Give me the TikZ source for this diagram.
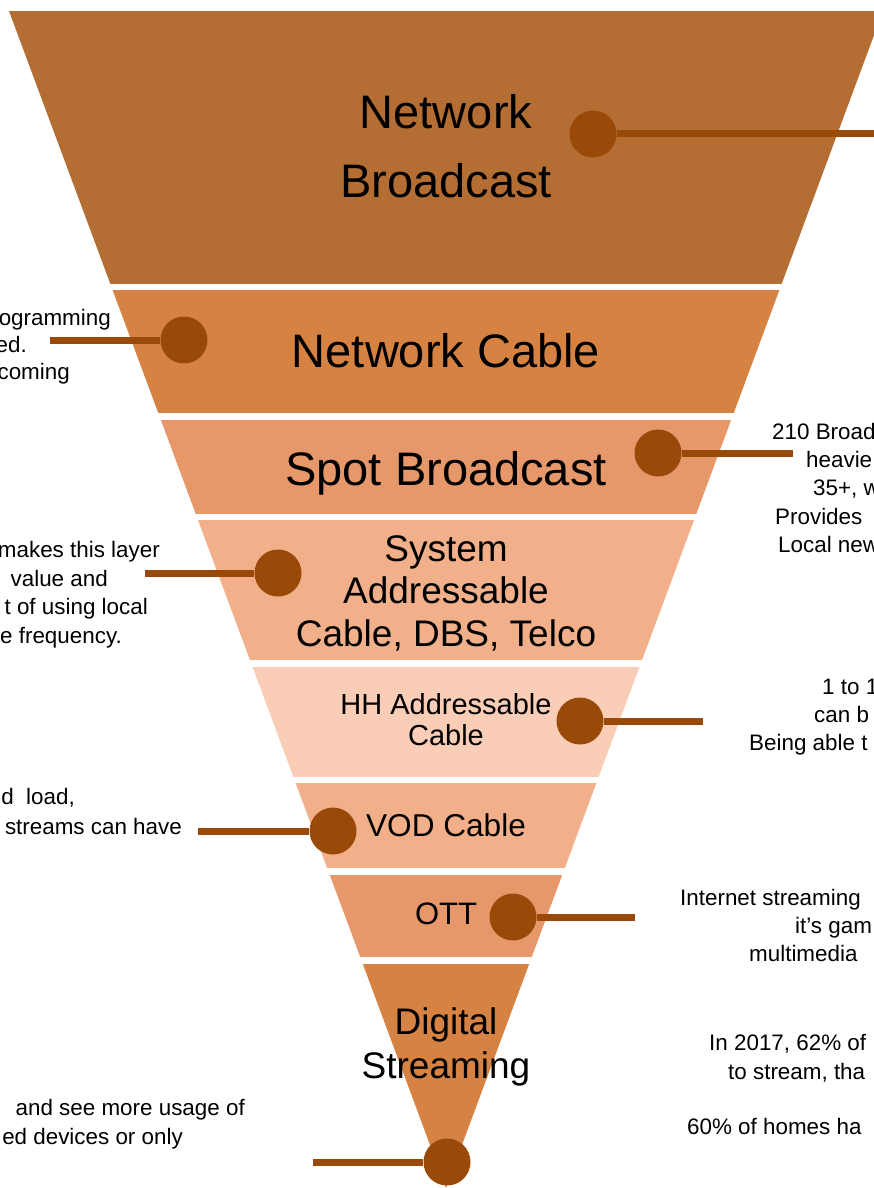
\documentclass[tikz,border=0pt]{standalone}
\usepackage{fontspec}
\setmainfont{Liberation Sans}
\definecolor{layerA}{RGB}{180,110,51}
\definecolor{layerB}{RGB}{214,130,66}
\definecolor{layerC}{RGB}{230,152,106}
\definecolor{layerD}{RGB}{241,176,138}
\definecolor{layerE}{RGB}{249,205,182}
\definecolor{knob}{RGB}{154,74,8}
\tikzset{
  layertext/.style 2 args={font=\fontsize{#1}{#2}\selectfont, align=center, inner sep=0pt},
  sidenote/.style={font=\fontsize{22.4}{29}\selectfont, inner sep=0pt, yshift=-5pt},
  knobdot/.style={circle, fill=knob, minimum size=47pt, inner sep=0pt},
  lead/.style={draw=knob, line width=7pt}
}

\begin{document}
\begin{tikzpicture}[x=1pt,y=-1pt]
\useasboundingbox (0,0) rectangle (874,1188);
\clip (0,0) rectangle (874,1188);

% funnel layers
\begin{scope}
\clip (9,11) -- (883,11) -- (446,1188) -- cycle;
\fill[layerA] (0,11) rectangle (900,284);
\fill[layerB] (0,290) rectangle (900,413);
\fill[layerC] (0,420) rectangle (900,514);
\fill[layerD] (0,520) rectangle (900,660);
\fill[layerE] (0,667) rectangle (900,777);
\fill[layerD] (0,783) rectangle (900,868);
\fill[layerC] (0,875) rectangle (900,957);
\fill[layerB] (0,964) rectangle (900,1190);
\end{scope}

% layer names
\node[layertext={47}{69}] (nb) at (446,146.5) {Network\\Broadcast};
\node[layertext={47}{56}] (nc) at (446,351) {Network Cable};
\node[layertext={47}{56}] (sb) at (446,473) {Spot Broadcast};
\node[layertext={37}{42.5}] (sa) at (446,593) {System\\Addressable\\Cable, DBS, Telco};
\node[layertext={29}{31}] (hh) at (446,720) {HH Addressable\\Cable};
\node[layertext={31.6}{36}] (vod) at (446,825) {VOD Cable};
\node[layertext={31}{36}] (ott) at (446,914) {OTT};
\node[layertext={37}{44}] (ds) at (446,1047) {Digital\\Streaming};

% leads
\coordinate (nbend) at (880,134);
\coordinate (ncend) at (50,340);
\coordinate (sbend) at (793,453);
\coordinate (saend) at (145,573);
\coordinate (hhend) at (703,721);
\coordinate (vodend) at (198,831);
\coordinate (ottend) at (635,917);
\coordinate (dsend) at (313,1162);
\node[knobdot] (nbdot) at (593,134) {};
\node[knobdot] (ncdot) at (184,340) {};
\node[knobdot] (sbdot) at (658,453) {};
\node[knobdot] (sadot) at (278,573) {};
\node[knobdot] (hhdot) at (580,721) {};
\node[knobdot] (voddot) at (333,831) {};
\node[knobdot] (ottdot) at (513,917) {};
\node[knobdot] (dsdot) at (447,1162) {};
\draw[lead] (nbdot) -- (nbend);
\draw[lead] (ncend) -- (ncdot);
\draw[lead] (sbdot) -- (sbend);
\draw[lead] (saend) -- (sadot);
\draw[lead] (hhdot) -- (hhend);
\draw[lead] (vodend) -- (voddot);
\draw[lead] (ottdot) -- (ottend);
\draw[lead] (dsend) -- (dsdot);

% notes on the left
\node[sidenote, anchor=mid east] (nc1) at (111,318) {ogramming};
\node[sidenote, anchor=mid east] (nc2) at (27,345) {ed.};
\node[sidenote, anchor=mid east] (nc3) at (70,372) {coming};
\node[sidenote, anchor=mid east] (sa1) at (160,550) {makes this layer};
\node[sidenote, anchor=mid east] (sa2) at (108,579) {value and};
\node[sidenote, anchor=mid east] (sa3) at (148,607) {t of using local};
\node[sidenote, anchor=mid east] (sa4) at (122,636) {e frequency.};
\node[sidenote, anchor=mid east] (vod1) at (75,797) {d\ \ load,};
\node[sidenote, anchor=mid east] (vod2) at (182,827) {streams can have};
\node[sidenote, anchor=mid east] (ds1) at (245,1108) {and see more usage of};
\node[sidenote, anchor=mid east] (ds2) at (183,1137) {ed devices or only};

% notes on the right
\node[sidenote, anchor=mid west] (sb1) at (772,432) {210 Broad};
\node[sidenote, anchor=mid west] (sb2) at (806,460) {heavie};
\node[sidenote, anchor=mid west] (sb3) at (813,488) {35+, w};
\node[sidenote, anchor=mid west] (sb4) at (775,517) {Provides};
\node[sidenote, anchor=mid west] (sb5) at (778,545) {Local new};
\node[sidenote, anchor=mid west] (hh1) at (822,687) {1 to 1};
\node[sidenote, anchor=mid west] (hh2) at (814,715) {can b};
\node[sidenote, anchor=mid west] (hh3) at (749,743) {Being able t};
\node[sidenote, anchor=mid west] (ott1) at (680,898) {Internet streaming};
\node[sidenote, anchor=mid west] (ott2) at (795,926) {it’s gam};
\node[sidenote, anchor=mid west] (ott3) at (749,954) {multimedia};
\node[sidenote, anchor=mid west] (ds3) at (709,1043) {In 2017, 62\% of};
\node[sidenote, anchor=mid west] (ds4) at (728,1072) {to stream, tha};
\node[sidenote, anchor=mid west] (ds5) at (687,1127) {60\% of homes ha};
\end{tikzpicture}
\end{document}
